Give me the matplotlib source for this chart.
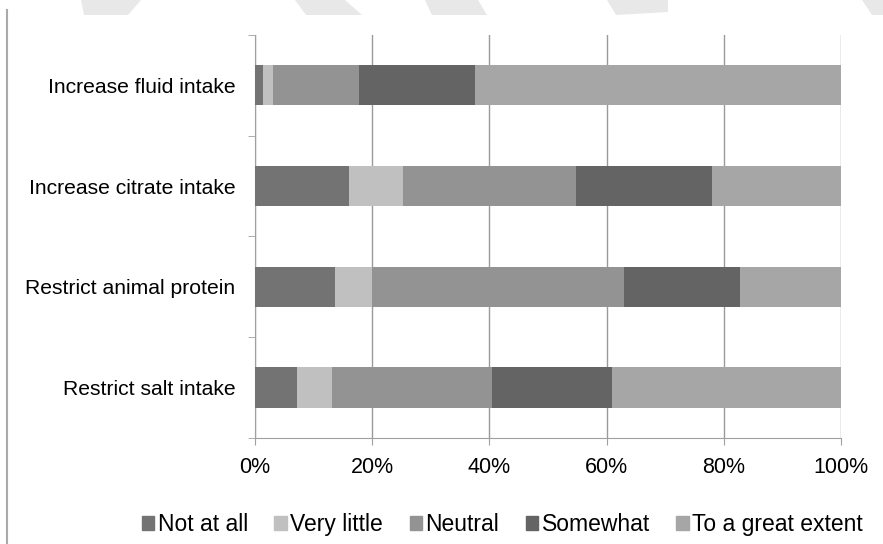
import numpy as np
import matplotlib.pyplot as plt
from matplotlib.patches import Polygon
from matplotlib.lines import Line2D

plt.rcParams['font.family'] = ['Liberation Sans', 'DejaVu Sans']

categories = ['Increase fluid intake', 'Increase citrate intake',
              'Restrict animal protein', 'Restrict salt intake']
levels = ['Not at all', 'Very little', 'Neutral', 'Somewhat', 'To a great extent']

not_at_all = [1.3, 16.1, 13.6, 7.2]
very_little = [1.8, 9.2, 6.3, 6.0]
neutral = [14.6, 29.4, 43.1, 27.2]
somewhat = [19.8, 23.3, 19.8, 20.6]
great_extent = [62.5, 22.0, 17.2, 39.0]

series = [not_at_all, very_little, neutral, somewhat, great_extent]
colors = ['#737373', '#c0c0c0', '#939393', '#646464', '#a6a6a6']

fig = plt.figure(figsize=(8.83, 5.44), dpi=100)
ax = fig.add_axes([0.2888, 0.195, 0.6636, 0.7407])

y = np.arange(len(categories))
left = np.zeros(len(categories))
for vals, col, name in zip(series, colors, levels):
    ax.barh(y, vals, left=left, height=0.4, color=col, label=name, zorder=3)
    left += np.array(vals)

ax.set_xlim(0, 100)
ax.set_ylim(3.5, -0.5)
ax.set_xticks(np.arange(0, 101, 20))
ax.set_xticklabels([f'{v}%' for v in range(0, 101, 20)], fontsize=15.5)
ax.set_yticks(y)
ax.set_yticklabels(categories, fontsize=15.2)
ax.set_yticks(np.arange(-0.5, 3.6, 1), minor=True)
ax.tick_params(axis='y', which='major', length=0, pad=14)
ax.tick_params(axis='y', which='minor', length=5, color='#a0a0a0', direction='out')
ax.tick_params(axis='x', length=5, color='#a0a0a0', pad=9)
ax.grid(axis='x', color='#9a9a9a', linewidth=1, zorder=0)

for side in ['top', 'right']:
    ax.spines[side].set_visible(False)
for side in ['left', 'bottom']:
    ax.spines[side].set_color('#a0a0a0')

handles = [plt.Rectangle((0, 0), 1, 1, color=c) for c in colors]
fig.legend(handles, levels, loc='center', bbox_to_anchor=(0.569, 0.035), ncol=5,
           frameon=False, fontsize=16.5, handlelength=0.55, handleheight=0.55,
           handletextpad=0.15, columnspacing=1.15)

# page border line on the left
fig.add_artist(Line2D([7 / 883, 7 / 883], [0, 1 - 10 / 544], color='#aaaaaa',
                      linewidth=1.5, transform=fig.transFigure))

# faint watermark shapes along the top edge
marks = [
    [(81, 0), (141, 0), (128, 15), (84, 15)],
    [(295, 0), (345, 0), (362, 15), (306, 15)],
    [(425, 0), (478, 0), (487, 15), (432, 15)],
    [(607, 0), (668, 0), (668, 12), (616, 15)],
    [(862, 0), (883, 0), (883, 15), (872, 15)],
]
for pts in marks:
    fig.add_artist(Polygon([(x / 883, 1 - yy / 544) for x, yy in pts], closed=True,
                           facecolor='#e8e8e8', edgecolor='none',
                           transform=fig.transFigure))

fig.savefig('out.png', dpi=100)
